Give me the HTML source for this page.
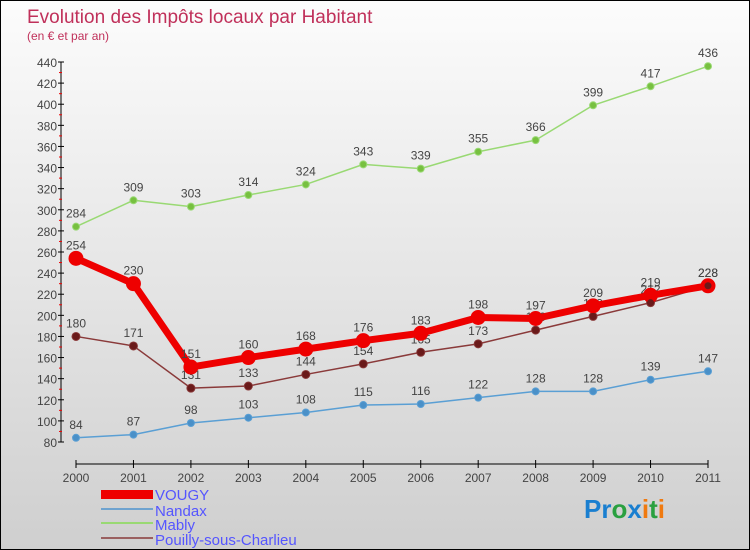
<!DOCTYPE html>
<html><head><meta charset="utf-8"><style>
body{margin:0}
#c{width:750px;height:550px;position:relative;box-sizing:border-box;border:1px solid #000;background:linear-gradient(#fcfcfc,#cfcfcf);font-family:"Liberation Sans",sans-serif;overflow:hidden}
</style></head><body>
<div id="c">
<svg id="s" width="750" height="550" style="position:absolute;left:0;top:0">
<text x="26" y="22" font-size="19" fill="#c0305a">Evolution des Impôts locaux par Habitant</text>
<text x="26" y="39" font-size="12" fill="#c0305a">(en € et par an)</text>
<g id="ax"></g><g id="series"></g>
<g>
<rect x="100" y="489" width="52" height="9" fill="#e00"/>
<text x="154" y="499" font-size="15" fill="#5555ff">VOUGY</text>
<line x1="100" y1="508" x2="152" y2="508" stroke="#6fa3cf" stroke-width="2"/>
<text x="154" y="515" font-size="15" fill="#5555ff">Nandax</text>
<line x1="100" y1="522" x2="152" y2="522" stroke="#99d973" stroke-width="2"/>
<text x="154" y="529" font-size="15" fill="#5555ff">Mably</text>
<line x1="100" y1="537" x2="152" y2="537" stroke="#9a6060" stroke-width="2"/>
<text x="154" y="544" font-size="15" fill="#5555ff">Pouilly-sous-Charlieu</text>
</g>
<text x="583" y="517" font-size="26" font-weight="bold"><tspan fill="#1a7fd0">Pr</tspan><tspan fill="#2aa040">o</tspan><tspan fill="#1a7fd0">x</tspan><tspan fill="#f07a10">i</tspan><tspan fill="#2aa040">t</tspan><tspan fill="#f07a10">i</tspan></text>
</svg></div>
<script>
const years=["2000","2001","2002","2003","2004","2005","2006","2007","2008","2009","2010","2011"];
const yTicks=[80,100,120,140,160,180,200,220,240,260,280,300,320,340,360,380,400,420,440];
const mably=[284,309,303,314,324,343,339,355,366,399,417,436];
const nandax=[84,87,98,103,108,115,116,122,128,128,139,147];
const pouilly=[180,171,131,133,144,154,165,173,186,199,212,228];
const vougy=[254,230,151,160,168,176,183,198,197,209,219,228];
const NS="http://www.w3.org/2000/svg";
const X=i=>75+i*(707-75)/11, Y=v=>441-(v-80)*380/360;
function mk(t,a,p){const e=document.createElementNS(NS,t);for(const k in a)e.setAttribute(k,a[k]);p.appendChild(e);return e;}
const ax=document.getElementById('ax');
mk('line',{x1:60,y1:Y(440),x2:60,y2:Y(80),stroke:'#000'},ax);
mk('line',{x1:75,y1:463,x2:707,y2:463,stroke:'#000'},ax);
yTicks.forEach((v,i)=>{mk('line',{x1:57,y1:Y(v),x2:63,y2:Y(v),stroke:'#000'},ax);
 if(i<yTicks.length-1)mk('line',{x1:58,y1:Y(v+10),x2:61,y2:Y(v+10),stroke:'#e00'},ax);
 const t=mk('text',{x:56,y:Y(v)+5,'text-anchor':'end','font-size':12,fill:'#444'},ax);t.textContent=v;
 
 });
years.forEach((y,i)=>{mk('line',{x1:X(i),y1:459,x2:X(i),y2:467,stroke:'#000'},ax);
 const t=mk('text',{x:X(i),y:481,'text-anchor':'middle','font-size':12,fill:'#444'},ax);t.textContent=y;
 
 });
const sg=document.getElementById('series');
function series(name,data,col,w,r,fill){
 const g=mk('g',{},sg);
 
 
 mk('polyline',{points:data.map((v,i)=>X(i)+','+Y(v)).join(' '),fill:'none',stroke:col,'stroke-width':w,'stroke-linejoin':'round'},g);
 data.forEach((v,i)=>{const c=mk('circle',{cx:X(i),cy:Y(v),r:r,fill:fill,stroke:col,'stroke-width':1},g);
  
  
  const t=mk('text',{x:X(i),y:Y(v)-9,'text-anchor':'middle','font-size':12,fill:'#444'},g);t.textContent=v;
  
  });
}
series('nandax',nandax,'#5a9fd4',1.5,3.5,'#4a90c8');
series('mably',mably,'#99d973',1.5,3.5,'#77c040');
series('pouilly',pouilly,'#8a3a3a',1.5,4,'#6a1a1a');
series('vougy',vougy,'#ee0000',7,7,'#ee0000');
// redraw pouilly dots on top
pouilly.forEach((v,i)=>{const c=mk('circle',{cx:X(i),cy:Y(v),r:3.5,fill:'#6a1a1a'},sg);
 
 });
</script>
</body></html>
